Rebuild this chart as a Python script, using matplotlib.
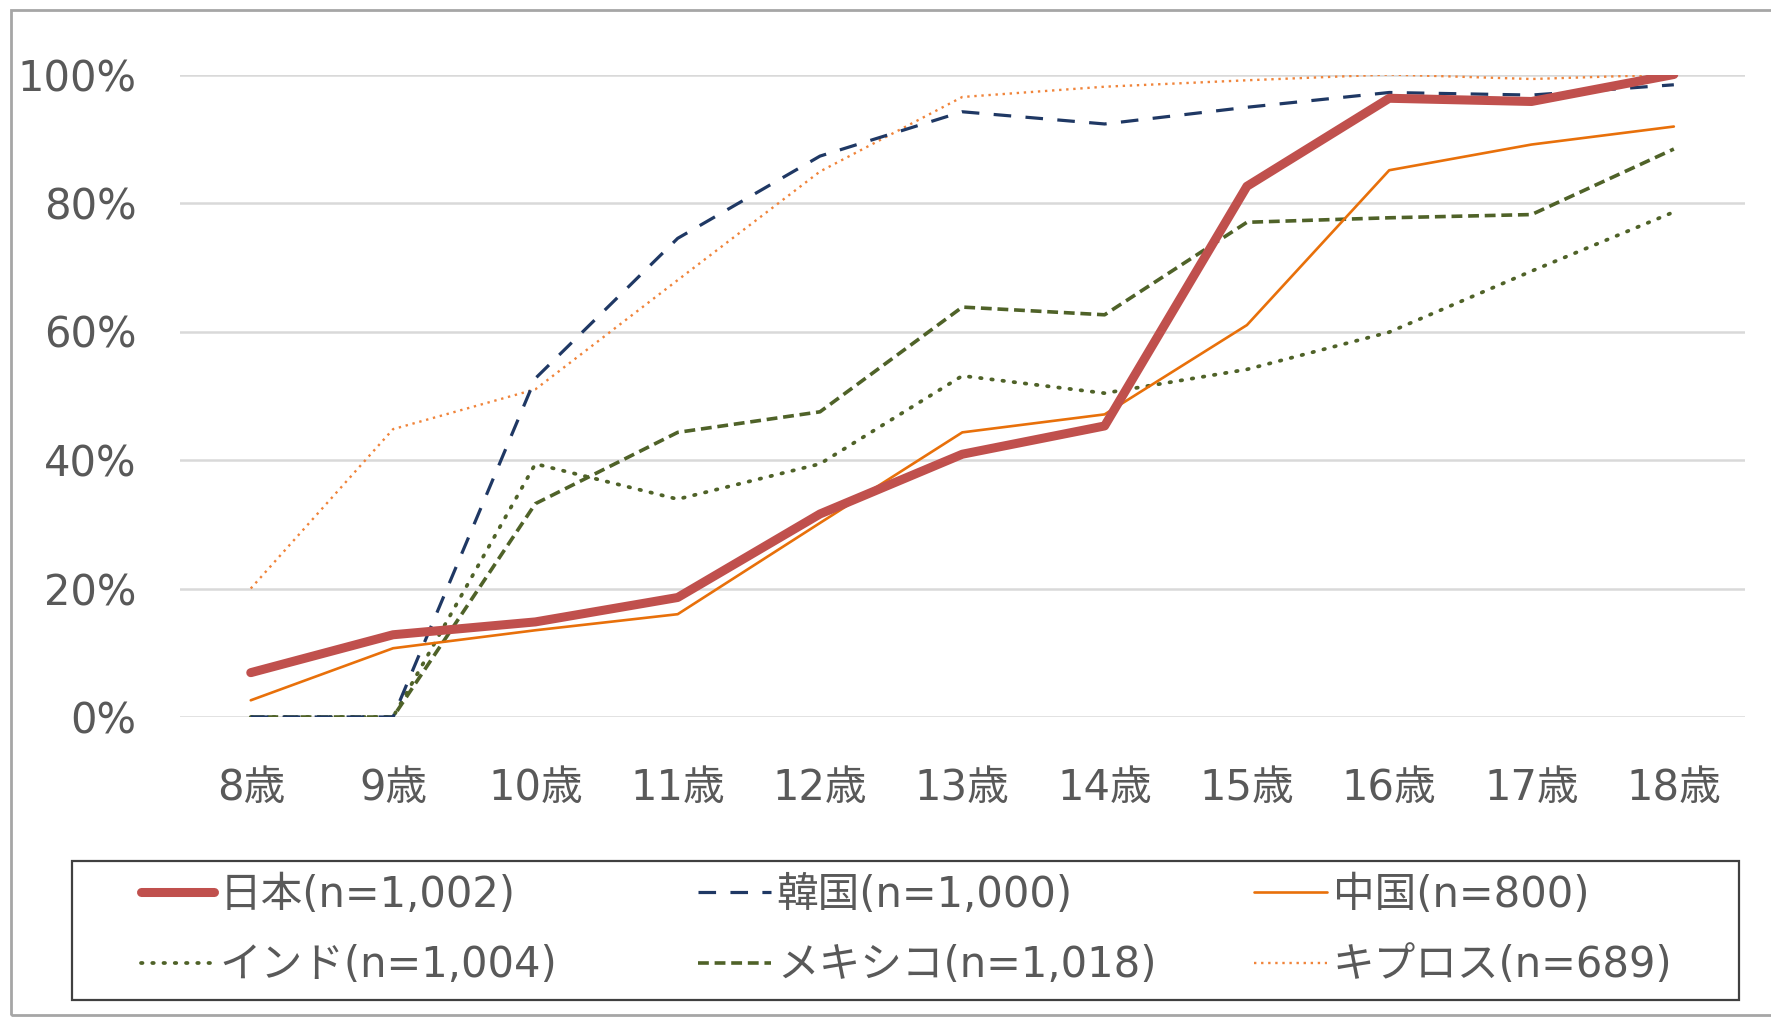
import matplotlib
matplotlib.use("Agg")
import matplotlib.pyplot as plt
from matplotlib.patches import Rectangle

plt.rcParams['font.family'] = ['DejaVu Sans', 'Noto Sans CJK JP']

# 年齢別の割合 (%)
edades = ['8歳', '9歳', '10歳', '11歳', '12歳', '13歳', '14歳', '15歳', '16歳', '17歳', '18歳']
japan = [6.9, 12.8, 14.8, 18.6, 31.6, 40.9, 45.3, 82.6, 96.3, 95.8, 100.0]
korea = [0.0, 0.0, 52.7, 74.5, 87.3, 94.2, 92.3, 94.9, 97.2, 96.8, 98.4]
china = [2.6, 10.7, 13.5, 16.0, 30.2, 44.3, 47.1, 61.0, 85.1, 89.1, 91.9]
india = [0.0, 0.0, 39.4, 33.9, 39.4, 53.1, 50.4, 54.1, 59.9, 69.4, 78.6]
mexico = [0.0, 0.0, 33.2, 44.3, 47.5, 63.8, 62.6, 77.0, 77.7, 78.2, 88.4]
cyprus = [20.0, 44.8, 51.0, 68.0, 84.9, 96.5, 98.1, 99.1, 100.0, 99.3, 100.0]

rotulos = ['日本(n=1,002)', '韓国(n=1,000)', '中国(n=800)',
           'インド(n=1,004)', 'メキシコ(n=1,018)', 'キプロス(n=689)']

cinza = '#595959'
fs = 30
W, H = 1771, 1018

fig = plt.figure(figsize=(W / 100, H / 100), dpi=100)
ax = fig.add_axes([179.6 / W, 1 - 717 / H, (1745 - 179.6) / W, (717 - 74.5) / H])

x = list(range(len(edades)))

estilos = [
    dict(y=japan, color='#C0504D', lw=6.5, ls='-', cap='round', z=6),
    dict(y=korea, color='#1F3864', lw=2.3, ls=(0, (5.5, 4.5)), cap='butt', z=5),
    dict(y=china, color='#E8700A', lw=1.9, ls='-', cap='round', z=4),
    dict(y=india, color='#4F6228', lw=2.7, ls=(0, (0.4, 2.6)), cap='round', z=3),
    dict(y=mexico, color='#4F6228', lw=2.6, ls=(0, (3.0, 1.6)), cap='butt', z=3),
    dict(y=cyprus, color='#F0843A', lw=1.7, ls=(0, (1.0, 2.0)), cap='butt', z=2),
]

handles = []
for e in estilos:
    ln, = ax.plot(x, e['y'], color=e['color'], lw=e['lw'], linestyle=e['ls'],
                  solid_capstyle=e['cap'], dash_capstyle=e['cap'], zorder=e['z'],
                  solid_joinstyle='round')
    handles.append(ln)

ax.set_xlim(-0.5, 10.5)
ax.set_ylim(0, 100)
ax.set_yticks([0, 20, 40, 60, 80, 100])
ax.set_yticklabels([f'{v}%' for v in [0, 20, 40, 60, 80, 100]])
ax.set_xticks(x)
ax.set_xticklabels(edades)
ax.grid(axis='y', color='#D9D9D9', lw=1.8, zorder=0)
ax.set_axisbelow(True)
for s in ax.spines.values():
    s.set_visible(False)
ax.tick_params(axis='both', length=0, labelsize=fs, labelcolor=cinza)
ax.tick_params(axis='y', pad=31)
ax.tick_params(axis='x', pad=36)

# moldura do gráfico
fig.patches.append(Rectangle((11 / W, 1 - 1015 / H), (W + 20 - 11) / W, (1015 - 10) / H,
                             transform=fig.transFigure, fill=False,
                             edgecolor='#A6A6A6', lw=2.0, zorder=0))
# caixa da legenda
fig.patches.append(Rectangle((72 / W, 1 - 1000 / H), (1739 - 72) / W, (1000 - 861) / H,
                             transform=fig.transFigure, fill=False,
                             edgecolor='#404040', lw=1.6, zorder=1))

# três colunas de legenda, duas entradas cada
colunas_x = [141, 698, 1254]
for k, cx in enumerate(colunas_x):
    idx = [k, k + 3]
    leg = fig.legend([handles[i] for i in idx], [rotulos[i] for i in idx],
                     loc='center left', bbox_to_anchor=(cx / W, 1 - 930 / H),
                     borderaxespad=0, borderpad=0, fontsize=fs, frameon=False,
                     handlelength=1.75, handletextpad=0.14, labelspacing=0.68,
                     labelcolor=cinza)

fig.savefig('out.png', dpi=100, facecolor='white')
